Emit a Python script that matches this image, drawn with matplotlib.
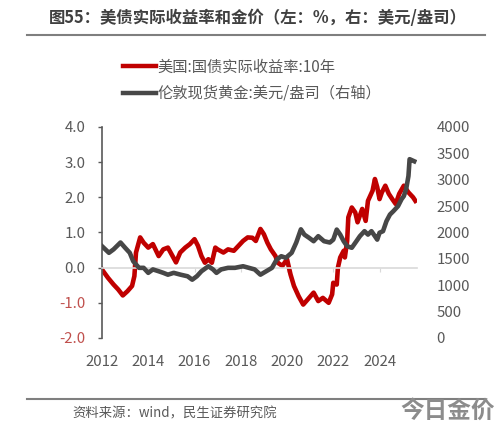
import matplotlib
matplotlib.use("Agg")
import matplotlib.pyplot as plt
from matplotlib.lines import Line2D

plt.rcParams['font.family'] = ['Noto Sans CJK SC', 'DejaVu Sans']

# data (decimal years)
yield_years = [2012.0, 2012.05, 2012.26, 2012.5, 2012.7, 2012.9, 2013.1, 2013.3, 2013.4, 2013.47,
               2013.65, 2013.8, 2014.0, 2014.2, 2014.45, 2014.65, 2014.85, 2015.05, 2015.2, 2015.38,
               2015.6, 2015.8, 2016.0, 2016.15, 2016.3, 2016.45, 2016.6, 2016.75, 2016.9, 2017.0,
               2017.25, 2017.45, 2017.7, 2017.9, 2018.1, 2018.3, 2018.5, 2018.65, 2018.85, 2019.0,
               2019.15, 2019.3, 2019.5, 2019.6, 2019.8, 2020.0, 2020.15, 2020.3, 2020.5, 2020.7,
               2020.9, 2021.15, 2021.35, 2021.55, 2021.8, 2021.95, 2022.0, 2022.15, 2022.2, 2022.3,
               2022.45, 2022.5, 2022.6, 2022.65, 2022.8, 2022.95, 2023.05, 2023.25, 2023.4, 2023.5,
               2023.7, 2023.8, 2023.9, 2024.0, 2024.1, 2024.25, 2024.4, 2024.55, 2024.7, 2024.85,
               2025.05, 2025.25, 2025.45, 2025.55]
real_yield = [-0.05, -0.1, -0.29, -0.48, -0.62, -0.79, -0.67, -0.52, -0.24, 0.43,
              0.86, 0.71, 0.57, 0.67, 0.33, 0.52, 0.57, 0.33, 0.15, 0.43,
              0.57, 0.67, 0.81, 0.62, 0.33, 0.14, 0.24, 0.14, 0.57, 0.52,
              0.43, 0.52, 0.48, 0.62, 0.76, 0.86, 0.85, 0.76, 1.1, 0.95,
              0.71, 0.52, 0.33, 0.14, 0.05, 0.24, -0.19, -0.52, -0.81, -1.05,
              -0.9, -0.71, -0.95, -0.86, -1.0, -0.76, -0.43, -0.48, 0.0, 0.29,
              0.48, 0.29, 0.76, 1.43, 1.71, 1.57, 1.29, 1.67, 1.33, 1.9,
              2.19, 2.52, 2.29, 1.95, 2.14, 2.33, 2.1, 1.95, 1.81, 2.1,
              2.33, 2.14, 2.0, 1.9]

gold_years = [2012.0, 2012.3, 2012.5, 2012.8, 2013.0, 2013.2, 2013.35, 2013.6, 2013.8, 2014.0,
              2014.2, 2014.45, 2014.65, 2014.85, 2015.1, 2015.4, 2015.7, 2015.9, 2016.1, 2016.3,
              2016.6, 2016.8, 2016.95, 2017.15, 2017.45, 2017.75, 2018.1, 2018.35, 2018.6, 2018.85,
              2019.1, 2019.35, 2019.55, 2019.75, 2019.95, 2020.2, 2020.4, 2020.6, 2020.75, 2020.95,
              2021.15, 2021.35, 2021.6, 2021.85, 2022.0, 2022.15, 2022.3, 2022.45, 2022.6, 2022.8,
              2023.0, 2023.15, 2023.35, 2023.5, 2023.65, 2023.8, 2023.9, 2024.0, 2024.15, 2024.3,
              2024.45, 2024.6, 2024.8, 2024.95, 2025.05, 2025.15, 2025.25, 2025.3, 2025.45, 2025.5]
gold = [1740, 1615, 1680, 1810, 1710, 1615, 1455, 1330, 1330, 1235,
        1300, 1265, 1235, 1200, 1235, 1200, 1170, 1105, 1170, 1265,
        1360, 1300, 1235, 1300, 1330, 1330, 1360, 1330, 1300, 1200,
        1265, 1330, 1485, 1550, 1520, 1615, 1810, 2060, 1960, 1900,
        1835, 1930, 1835, 1810, 1865, 2055, 1960, 1835, 1740, 1710,
        1835, 1930, 2025, 1960, 2025, 1930, 1865, 1995, 2025, 2215,
        2340, 2405, 2500, 2630, 2690, 2820, 3070, 3390, 3360, 3350]

year_ticks = [2012, 2014, 2016, 2018, 2020, 2022, 2024]
left_ticks = [-2.0, -1.0, 0.0, 1.0, 2.0, 3.0, 4.0]
right_ticks = [0, 500, 1000, 1500, 2000, 2500, 3000, 3500, 4000]

RED = '#C00000'
DARK = '#474747'
TXT = '#595959'

fig = plt.figure(figsize=(5.0, 4.26), dpi=100)
ax = fig.add_axes([0.204, 0.2066, 0.63, 0.4953])
ax2 = ax.twinx()

ax.plot(yield_years, real_yield, color=RED, lw=3.3, solid_joinstyle='round')
ax2.plot(gold_years, gold, color=DARK, lw=3.3, solid_joinstyle='round')

ax.set_xlim(2012, 2025.62)
ax.set_ylim(-2.0, 4.0)
ax2.set_ylim(0, 4000)

# left axis
ax.set_yticks(left_ticks)
ax.set_yticklabels(['%.1f' % v for v in left_ticks])
for lab, v in zip(ax.get_yticklabels(), left_ticks):
    lab.set_color('#C0504D' if v < 0 else TXT)
ax.tick_params(axis='y', direction='out', length=3, width=1, color=TXT, labelsize=10.8, pad=9)
ax.spines['left'].set_color(TXT)
ax.spines['left'].set_linewidth(1.2)
for s in ['top', 'right']:
    ax.spines[s].set_visible(False)

# horizontal axis crossing at zero
ax.spines['bottom'].set_position(('data', 0))
ax.spines['bottom'].set_color('#D9D9D9')
ax.spines['bottom'].set_linewidth(1.2)
ax.set_xticks(year_ticks)
ax.tick_params(axis='x', direction='out', length=3, color='#D9D9D9', labelbottom=False)
sec = ax.secondary_xaxis('bottom')
sec.set_xticks(year_ticks)
sec.set_xticklabels([str(y) for y in year_ticks])
sec.tick_params(length=0, labelsize=10.8, labelcolor=TXT, pad=12)
sec.spines['bottom'].set_visible(False)

# right axis
ax2.set_yticks(right_ticks)
ax2.tick_params(axis='y', length=0, labelsize=10.8, labelcolor=TXT, pad=14)
for s in ax2.spines.values():
    s.set_visible(False)

# legend
handles = [Line2D([], [], color=RED, lw=3.2), Line2D([], [], color=DARK, lw=3.2)]
labels = ['美国:国债实际收益率:10年', '伦敦现货黄金:美元/盎司（右轴）']
fig.legend(handles, labels, loc='upper left', bbox_to_anchor=(0.245, 0.862),
           frameon=False, fontsize=11, labelcolor=TXT, handlelength=2.2,
           handletextpad=0.1, labelspacing=0.6, borderaxespad=0, borderpad=0)

# title, rules, source
fig.text(0.516, 0.957, '图55：美债实际收益率和金价（左：%，右：美元/盎司）',
         ha='center', va='center', fontsize=11.8, fontweight='bold', color='#404040')
fig.add_artist(Line2D([0.054, 0.97], [1 - 35 / 426, 1 - 35 / 426], color='#7F7F7F', lw=1.5))
fig.add_artist(Line2D([0.054, 0.97], [1 - 399 / 426, 1 - 399 / 426], color='#7F7F7F', lw=1.5))
fig.text(0.144, 1 - 413 / 426, '资料来源：wind，民生证券研究院', ha='left', va='center',
         fontsize=9.6, color=TXT)
fig.text(0.99, 1 - 411 / 426, '今日金价', ha='right', va='center', fontsize=17,
         color='#8C8C8C', fontweight='bold')

fig.savefig('out.png', dpi=100)
